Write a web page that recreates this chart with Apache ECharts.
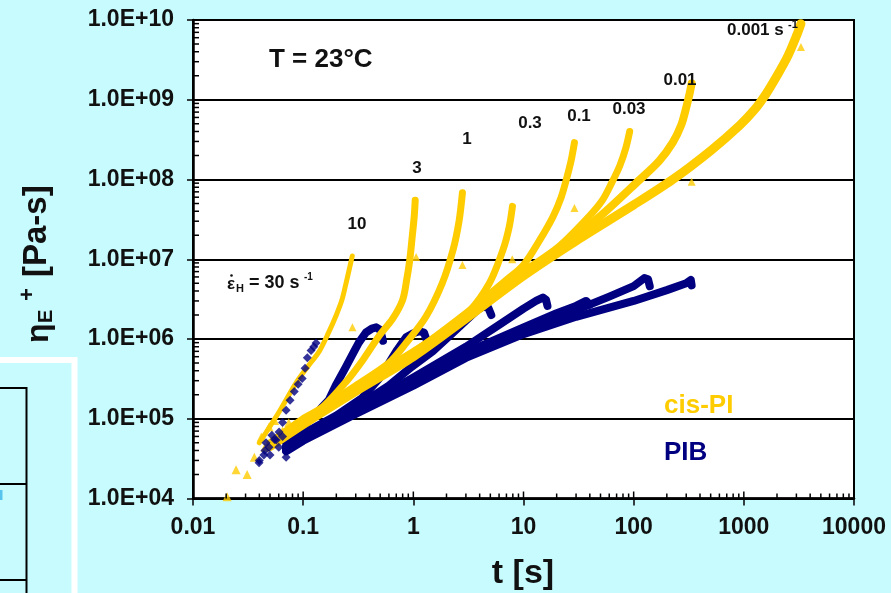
<!DOCTYPE html>
<html>
<head>
<meta charset="utf-8">
<script src="https://cdn.jsdelivr.net/npm/echarts@6/dist/echarts.min.js"></script>
<style>
html,body{margin:0;padding:0;background:#c8fbfd;}
#chart{width:891px;height:593px;}
</style>
</head>
<body>
<div id="chart"></div>
<script>
// ---- tick labels ----
const xTickLabels = ['0.01','0.1','1','10','100','1000','10000'];
const yTickLabels = ['1.0E+04','1.0E+05','1.0E+06','1.0E+07','1.0E+08','1.0E+09','1.0E+10'];
const xDecades = [0.01,0.1,1,10,100,1000];
const yDecades = [1e4,1e5,1e6,1e7,1e8,1e9];
const minorMultipliers = [2,3,4,5,6,7,8,9];

// ---- cis-PI (t [s], eta [Pa-s]) per strain rate ----
const cisPI_10    = [[0.04,5e4],[0.06,1.2e5],[0.086,2.8e5],[0.11,4.5e5],[0.14,7e5],[0.17,1.2e6],[0.2,2e6],[0.225,3.1e6],[0.245,5e6],[0.265,8e6],[0.279,1.1e7]];
const cisPI_3     = [[0.05,5e4],[0.1,1e5],[0.15,1.4e5],[0.25,3e5],[0.35,5.5e5],[0.49,1.1e6],[0.65,1.8e6],[0.8,3.1e6],[0.87,5.5e6],[0.93,1e7],[0.98,2e7],[1.02,3.5e7],[1.04,5.5e7]];
const cisPI_1     = [[0.05,4.8e4],[0.1,9.5e4],[0.3,2.6e5],[0.6,5e5],[0.86,8.9e5],[1.3,1.9e6],[1.83,5e6],[2.29,1.3e7],[2.6,3e7],[2.79,6.8e7]];
const cisPI_03    = [[0.05,4.7e4],[0.1,9e4],[0.3,2.5e5],[1,7e5],[2,1.3e6],[3.2,2.2e6],[4.9,5e6],[6.5,1.3e7],[7.4,2.5e7],[7.94,4.6e7]];
const cisPI_01    = [[0.05,4.6e4],[0.1,9e4],[0.3,2.4e5],[1,6.8e5],[3,2.1e6],[7,5.5e6],[10,8.5e6],[13.9,1.7e7],[18.5,3.4e7],[22,6e7],[24.5,1e8],[27,1.7e8],[29,2.9e8]];
const cisPI_003   = [[0.05,4.6e4],[0.1,8.8e4],[0.3,2.35e5],[1,6.5e5],[3,2e6],[10,7e6],[21,1.45e7],[39,3.4e7],[52,5.5e7],[63,9e7],[75,1.5e8],[85,2.5e8],[92,4e8]];
const cisPI_001   = [[0.05,4.5e4],[0.1,8.7e4],[0.3,2.3e5],[1,6.3e5],[3,1.9e6],[10,6.8e6],[21,1.35e7],[49,3.4e7],[114,1e8],[170,1.7e8],[226,2.9e8],[270,4.8e8],[300,8e8],[320,1.15e9],[336,1.6e9]];
const cisPI_0001  = [[0.05,4.5e4],[0.1,8.5e4],[0.3,2.2e5],[1,6e5],[3,1.8e6],[10,6.2e6],[30,1.7e7],[100,4.8e7],[226,1e8],[500,2.3e8],[920,4.8e8],[1250,7.5e8],[1600,1.2e9],[2000,2e9],[2500,3.5e9],[3000,6.3e9],[3300,9e9]];
const cisPI_early = [[0.0204,1.05e4],[0.0246,2.3e4],[0.031,2e4],[0.036,3.3e4],[0.0417,5.9e4],[0.049,7.9e4],[0.045,4.4e4],[0.055,9.5e4],[0.074,8.9e4],[0.065,7e4]];
const cisPI_iso   = [[0.28,1.4e6],[1.06,1.07e7],[2.79,8.5e6],[7.9,1e7],[29,4.4e7],[336,9.4e7],[3300,4.6e9]];

// ---- PIB per strain rate ----
const pib_30   = [[0.0398,2.8e4],[0.044,3.5e4],[0.049,4.4e4],[0.055,5.5e4],[0.0604,6.8e4],[0.065,9e4],[0.07,1.28e5],[0.076,1.7e5],[0.083,2.2e5],[0.09,2.7e5],[0.098,3.2e5],[0.104,4.3e5],[0.109,5.8e5],[0.118,7.2e5],[0.125,8e5],[0.131,8.9e5]];
const pib_10   = [[0.07,5e4],[0.1,8e4],[0.13,1.15e5],[0.17,1.7e5],[0.2,2.7e5],[0.245,4.5e5],[0.29,7e5],[0.32,9e5],[0.37,1.2e6],[0.42,1.35e6],[0.46,1.4e6],[0.5,1.3e6],[0.53,9.5e5]];
const pib_3    = [[0.07,4.5e4],[0.1,6.5e4],[0.2,1.1e5],[0.34,1.8e5],[0.5,3.3e5],[0.7,7e5],[0.86,1.05e6],[1.0,1.18e6],[1.13,1.25e6],[1.25,1.2e6],[1.31,1e6]];
const pib_1    = [[0.07,4.3e4],[0.1,6e4],[0.3,1.4e5],[0.6,2.6e5],[0.97,4.5e5],[1.5,7e5],[2.1,1.07e6],[3,1.7e6],[3.8,2.3e6],[4.3,2.55e6],[4.8,2.45e6],[5.1,2e6]];
const pib_03   = [[0.07,4.2e4],[0.1,5.8e4],[0.3,1.3e5],[1,3.3e5],[3,8e5],[6,1.5e6],[10,2.4e6],[13,3e6],[15,3.3e6],[16,3.1e6],[16.5,2.6e6]];
const pib_01   = [[0.07,4.1e4],[0.1,5.7e4],[0.3,1.25e5],[1,3e5],[3,6.8e5],[10,1.4e6],[20,2.1e6],[30,2.6e6],[37,3e6],[40,2.7e6]];
const pib_003  = [[0.07,4e4],[0.1,5.5e4],[0.3,1.2e5],[1,2.8e5],[3,6.3e5],[10,1.25e6],[30,2.3e6],[60,3.4e6],[100,4.6e6],[125,5.8e6],[135,5.6e6],[140,4.6e6]];
const pib_001  = [[0.07,3.9e4],[0.1,5.3e4],[0.3,1.15e5],[1,2.6e5],[3,5.8e5],[10,1.15e6],[30,1.9e6],[100,3e6],[200,4.1e6],[300,5e6],[330,5.5e6],[336,4.7e6]];
const pib_early = [[0.04,3e4],[0.046,5e4],[0.05,3.5e4],[0.057,5.4e4],[0.06,4.4e4],[0.065,6e4],[0.07,3.3e4],[0.045,4e4],[0.052,6.2e4],[0.075,4.8e4]];

const YEL = '#FFCC00';
const NAVY = '#000080';
const FONT = '"Liberation Sans", Arial, sans-serif';

function lineS(data, color, width, z, smooth) {
  return {type:'line', data, symbol:'none', showSymbol:false, silent:true, animation:false, z,
    smooth: smooth || false,
    lineStyle:{color, width, cap:'round', join:'round'}};
}
function scat(data, color, symbol, size, z) {
  return {type:'scatter', data, symbol, symbolSize:size, silent:true, animation:false, z,
    itemStyle:{color}};
}

// minor tick data
const xMinor = [];
xDecades.forEach(d => minorMultipliers.forEach(m => xMinor.push([m*d, 1e4, 5])));
xDecades.concat([10000]).forEach(d => xMinor.push([d, 1e4, 7]));
const yMinor = [];
yDecades.forEach(d => minorMultipliers.forEach(m => yMinor.push([0.01, m*d, 6])));

const chart = echarts.init(document.getElementById('chart'), null, {renderer:'canvas'});

const series = [
  lineS(pib_10, NAVY, 8, 3), lineS(pib_3, NAVY, 8, 3), lineS(pib_1, NAVY, 8, 3),
  lineS(pib_03, NAVY, 8, 3), lineS(pib_01, NAVY, 8, 3), lineS(pib_003, NAVY, 8, 3), lineS(pib_001, NAVY, 8, 3),
  lineS(cisPI_0001, YEL, 9, 4, 0.3), lineS(cisPI_001, YEL, 8, 4, 0.3), lineS(cisPI_003, YEL, 7, 4, 0.3), lineS(cisPI_01, YEL, 7, 4, 0.3),
  lineS(cisPI_03, YEL, 7, 4, 0.3), lineS(cisPI_1, YEL, 7, 4, 0.3), lineS(cisPI_3, YEL, 7, 4, 0.3), lineS(cisPI_10, YEL, 5, 4, 0.3),
  scat(cisPI_early, YEL, 'triangle', 9, 5), scat(cisPI_iso, YEL, 'triangle', 8, 5),
  scat(pib_early, NAVY, 'diamond', 9, 6), scat(pib_30, NAVY, 'diamond', 9, 6),
  {type:'custom', data: xMinor.concat(yMinor), silent:true, animation:false, clip:false, z:10,
    renderItem: function(params, api) {
      const xv = api.value(0), yv = api.value(1), len = api.value(2);
      const p = api.coord([xv, yv]);
      const isX = params.dataIndex < xMinor.length;
      const shape = isX ? {x1:p[0], y1:p[1], x2:p[0], y2:p[1]-len}
                        : {x1:p[0], y1:p[1], x2:p[0]+len, y2:p[1]};
      return {type:'line', shape, style:{stroke:'#000', lineWidth:1.5}};
    }}
];

const option = {
  backgroundColor:'#c8fbfd',
  animation:false,
  grid:{left:193, right:37, top:20, bottom:94.5, show:true, backgroundColor:'#ffffff', borderColor:'#000', borderWidth:2},
  xAxis:{type:'log', logBase:10, min:0.01, max:10000, splitNumber:6,
    axisLine:{lineStyle:{color:'#000', width:2.5}},
    axisTick:{show:true, length:7, lineStyle:{color:'#000', width:1.5}},
    splitLine:{show:false},
    axisLabel:{margin:18, color:'#111', fontFamily:FONT, fontWeight:'bold', fontSize:23,
      formatter: v => xTickLabels[Math.round(Math.log10(v)) + 2]}},
  yAxis:{type:'log', logBase:10, min:1e4, max:1e10, splitNumber:6,
    axisLine:{lineStyle:{color:'#000', width:2.5}},
    axisTick:{show:true, length:6, lineStyle:{color:'#000', width:1.5}},
    splitLine:{show:true, lineStyle:{color:'#000', width:2}},
    axisLabel:{margin:19, color:'#111', fontFamily:FONT, fontWeight:'bold', fontSize:23,
      formatter: v => yTickLabels[Math.round(Math.log10(v)) - 4]}},
  series,
  graphic:[
    // inset frame at left (slide artefact)
    {type:'rect', shape:{x:-10, y:360, width:84.5, height:260}, style:{fill:'none', stroke:'#ffffff', lineWidth:6}, z:1},
    {type:'polyline', shape:{points:[[0,388],[26.5,388],[26.5,600]]}, style:{stroke:'#000', lineWidth:2, fill:'none'}, z:1},
    {type:'line', shape:{x1:0, y1:484, x2:26.5, y2:484}, style:{stroke:'#000', lineWidth:2}, z:1},
    {type:'line', shape:{x1:0, y1:580, x2:26.5, y2:580}, style:{stroke:'#000', lineWidth:2}, z:1},
    {type:'rect', shape:{x:0, y:490, width:2.5, height:10}, style:{fill:'#58c4ee'}, z:1},
    // y axis title (rotated)
    {type:'group', x:37, y:257, rotation:Math.PI/2, z:20, children:[
      {type:'text', x:-86, y:2, style:{text:'η', font:'bold 32px '+FONT, fill:'#111', textVerticalAlign:'middle', textAlign:'left'}},
      {type:'text', x:-66, y:9, style:{text:'E', font:'bold 20px '+FONT, fill:'#111', textVerticalAlign:'middle', textAlign:'left'}},
      {type:'text', x:-44, y:-9, style:{text:'+', font:'bold 22px '+FONT, fill:'#111', textVerticalAlign:'middle', textAlign:'left'}},
      {type:'text', x:-20, y:0, style:{text:'[Pa-s]', font:'bold 33px '+FONT, fill:'#111', textVerticalAlign:'middle', textAlign:'left'}}
    ]},
    // x axis title
    {type:'text', x:523, y:574, z:20, style:{text:'t [s]', font:'bold 34px '+FONT, fill:'#111', textAlign:'center', textVerticalAlign:'middle'}},
    // annotations
    {type:'text', x:269, y:60, z:20, style:{text:'T = 23°C', font:'bold 26px '+FONT, fill:'#111', textAlign:'left', textVerticalAlign:'middle'}},
    {type:'text', x:357, y:224, z:20, style:{text:'10', font:'bold 17px '+FONT, fill:'#111', textAlign:'center', textVerticalAlign:'middle'}},
    {type:'text', x:417, y:168, z:20, style:{text:'3', font:'bold 17px '+FONT, fill:'#111', textAlign:'center', textVerticalAlign:'middle'}},
    {type:'text', x:467, y:139, z:20, style:{text:'1', font:'bold 17px '+FONT, fill:'#111', textAlign:'center', textVerticalAlign:'middle'}},
    {type:'text', x:530, y:123, z:20, style:{text:'0.3', font:'bold 17px '+FONT, fill:'#111', textAlign:'center', textVerticalAlign:'middle'}},
    {type:'text', x:579, y:116, z:20, style:{text:'0.1', font:'bold 17px '+FONT, fill:'#111', textAlign:'center', textVerticalAlign:'middle'}},
    {type:'text', x:629, y:109, z:20, style:{text:'0.03', font:'bold 17px '+FONT, fill:'#111', textAlign:'center', textVerticalAlign:'middle'}},
    {type:'text', x:680, y:80, z:20, style:{text:'0.01', font:'bold 17px '+FONT, fill:'#111', textAlign:'center', textVerticalAlign:'middle'}},
    {type:'text', x:727, y:30, z:20, style:{text:'0.001 s', font:'bold 17px '+FONT, fill:'#111', textAlign:'left', textVerticalAlign:'middle'}},
    {type:'text', x:788, y:25, z:20, style:{text:'-1', font:'bold 11px '+FONT, fill:'#111', textAlign:'left', textVerticalAlign:'middle'}},
    {type:'text', x:227, y:284, z:20, style:{text:'ε', font:'bold 17px '+FONT, fill:'#111', textAlign:'left', textVerticalAlign:'middle'}},
    {type:'circle', shape:{cx:231.5, cy:275.5, r:1.3}, style:{fill:'#111'}, z:20},
    {type:'text', x:236, y:289, z:20, style:{text:'H', font:'bold 11px '+FONT, fill:'#111', textAlign:'left', textVerticalAlign:'middle'}},
    {type:'text', x:249, y:283, z:20, style:{text:'= 30 s', font:'bold 18px '+FONT, fill:'#111', textAlign:'left', textVerticalAlign:'middle'}},
    {type:'text', x:304, y:277, z:20, style:{text:'-1', font:'bold 10px '+FONT, fill:'#111', textAlign:'left', textVerticalAlign:'middle'}},
    {type:'text', x:664, y:406, z:20, style:{text:'cis-PI', font:'bold 26px '+FONT, fill:YEL, textAlign:'left', textVerticalAlign:'middle'}},
    {type:'text', x:664, y:453, z:20, style:{text:'PIB', font:'bold 26px '+FONT, fill:NAVY, textAlign:'left', textVerticalAlign:'middle'}}
  ]
};
chart.setOption(option);
</script>
</body>
</html>
